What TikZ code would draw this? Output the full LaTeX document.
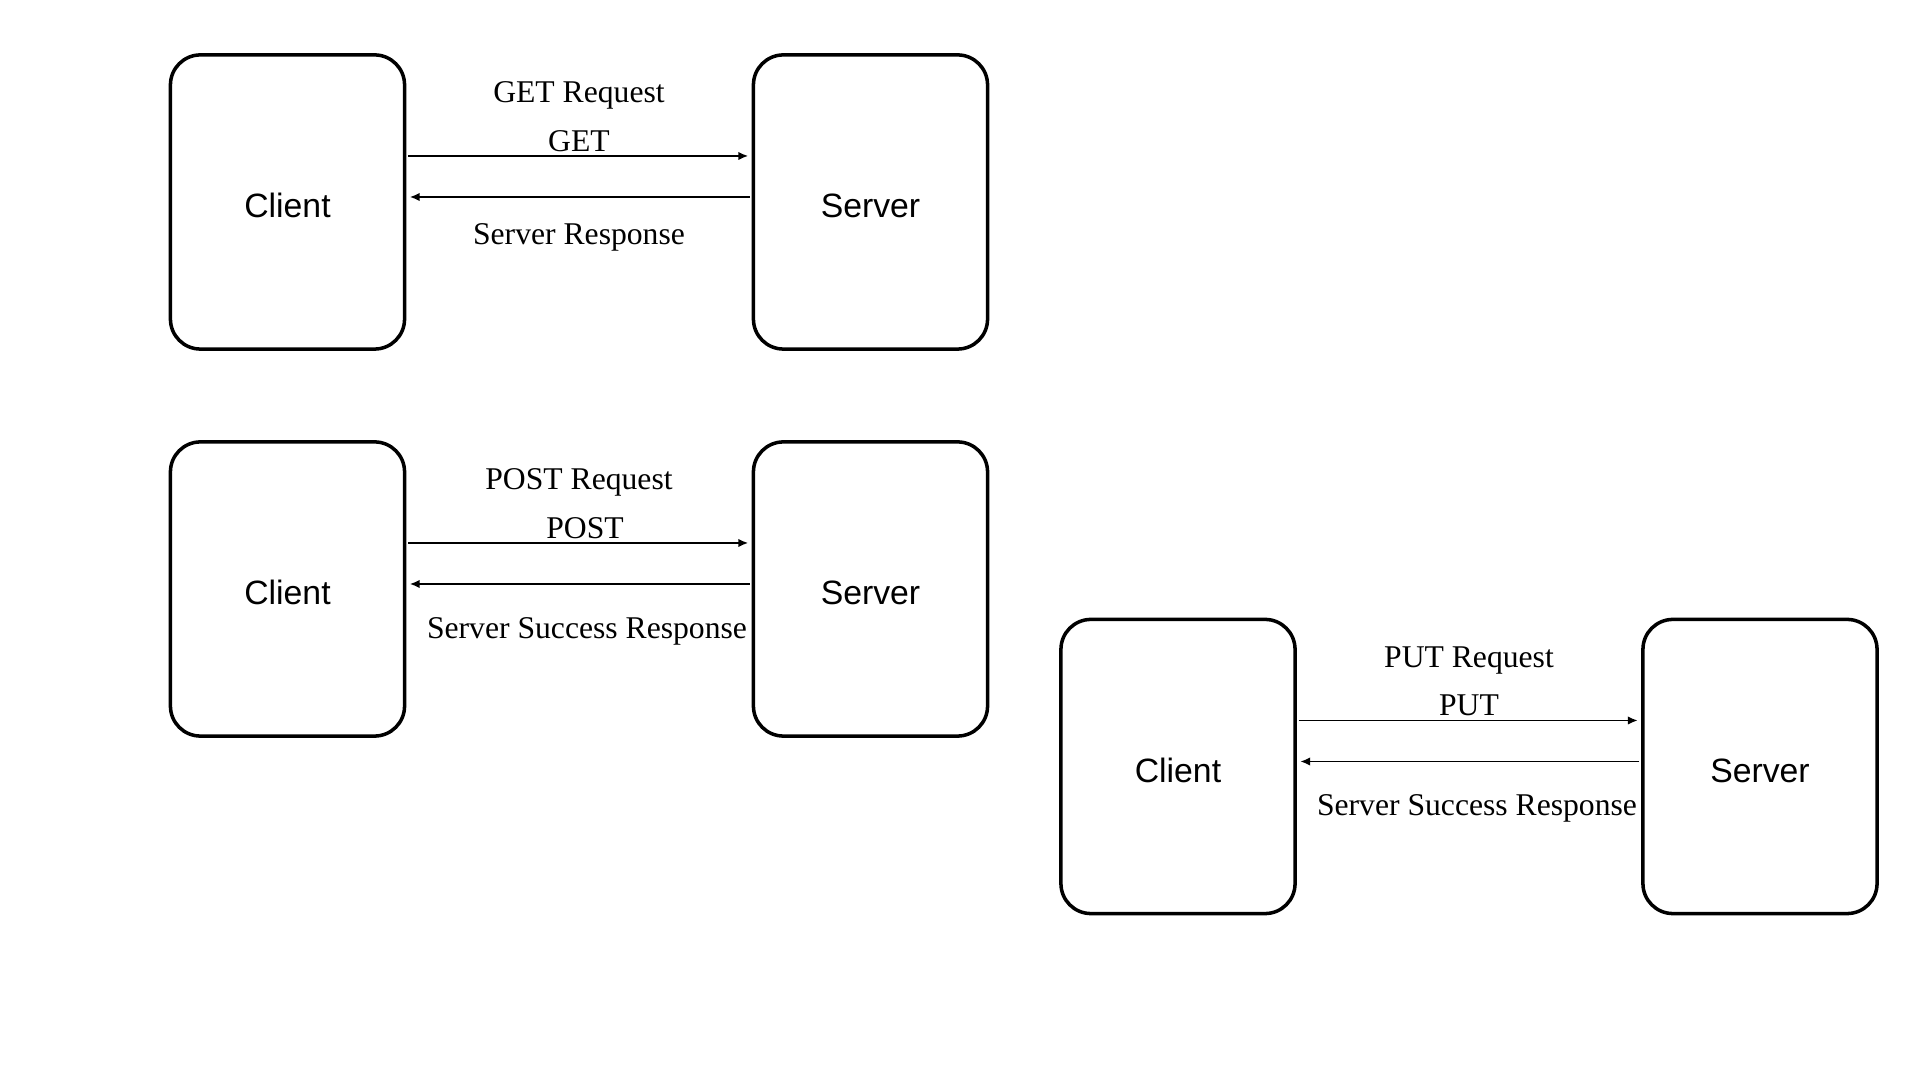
\documentclass[tikz,border=0pt]{standalone}
\usepackage{fontspec}
\setmainfont{Liberation Serif}
\setsansfont{Liberation Sans}
\usetikzlibrary{arrows.meta,positioning}

\begin{document}
\begin{tikzpicture}[x=0.01cm, y=-0.01cm,
	box/.style={draw, line width=1pt, rounded corners=0.3cm, minimum width=2.34cm, minimum height=2.94cm, text height=0.32cm, font=\sffamily\fontsize{9.6}{11}\selectfont},
	lbl/.style={font=\fontsize{9}{11}\selectfont, inner sep=0pt, anchor=base},
	msg/.style={-{Latex[length=2.8pt, width=2.4pt]}, line width=0.45pt, shorten <=0.5pt, shorten >=1pt}]
	\useasboundingbox[fill=white] (0, 0) rectangle (1920, 1080);

	% GET
	% modules
	\node[box] (cli1) at (287.5, 202) {Client};
	\node[box] (srv1) at (870.5, 202) {Server};
	% lines
	\draw[msg] ([yshift=0.46cm]cli1.east) -- ([yshift=0.46cm]srv1.west)
		node[lbl, midway, yshift=0.045cm] (get1) {GET}
		node[lbl, midway, yshift=0.53cm] (getreq1) {GET Request};
	\draw[msg] ([yshift=0.05cm]srv1.west) -- ([yshift=0.05cm]cli1.east)
		node[lbl, midway, yshift=-0.47cm] (getres1) {Server Response};

	% POST
	% modules
	\node[box] (cli2) at (287.5, 589) {Client};
	\node[box] (srv2) at (870.5, 589) {Server};
	% lines
	\draw[msg] ([yshift=0.46cm]cli2.east) -- ([yshift=0.46cm]srv2.west)
		node[lbl, midway, yshift=0.045cm, xshift=0.06cm] (post2) {POST}
		node[lbl, midway, yshift=0.53cm] (postreq2) {POST Request};
	\draw[msg] ([yshift=0.05cm]srv2.west) -- ([yshift=0.05cm]cli2.east)
		node[lbl, midway, yshift=-0.54cm, xshift=0.08cm] (postres2) {Server Success Response};

	% PUT
	% modules
	\node[box] (cli3) at (1178, 766.5) {Client};
	\node[box] (srv3) at (1760, 766.5) {Server};
	% lines
	\draw[msg] ([yshift=0.46cm]cli3.east) -- ([yshift=0.46cm]srv3.west)
		node[lbl, midway, yshift=0.045cm] (put3) {PUT}
		node[lbl, midway, yshift=0.53cm] (putreq3) {PUT Request};
	\draw[msg] ([yshift=0.05cm]srv3.west) -- ([yshift=0.05cm]cli3.east)
		node[lbl, midway, yshift=-0.54cm, xshift=0.08cm] (putres3) {Server Success Response};
\end{tikzpicture}
\end{document}
